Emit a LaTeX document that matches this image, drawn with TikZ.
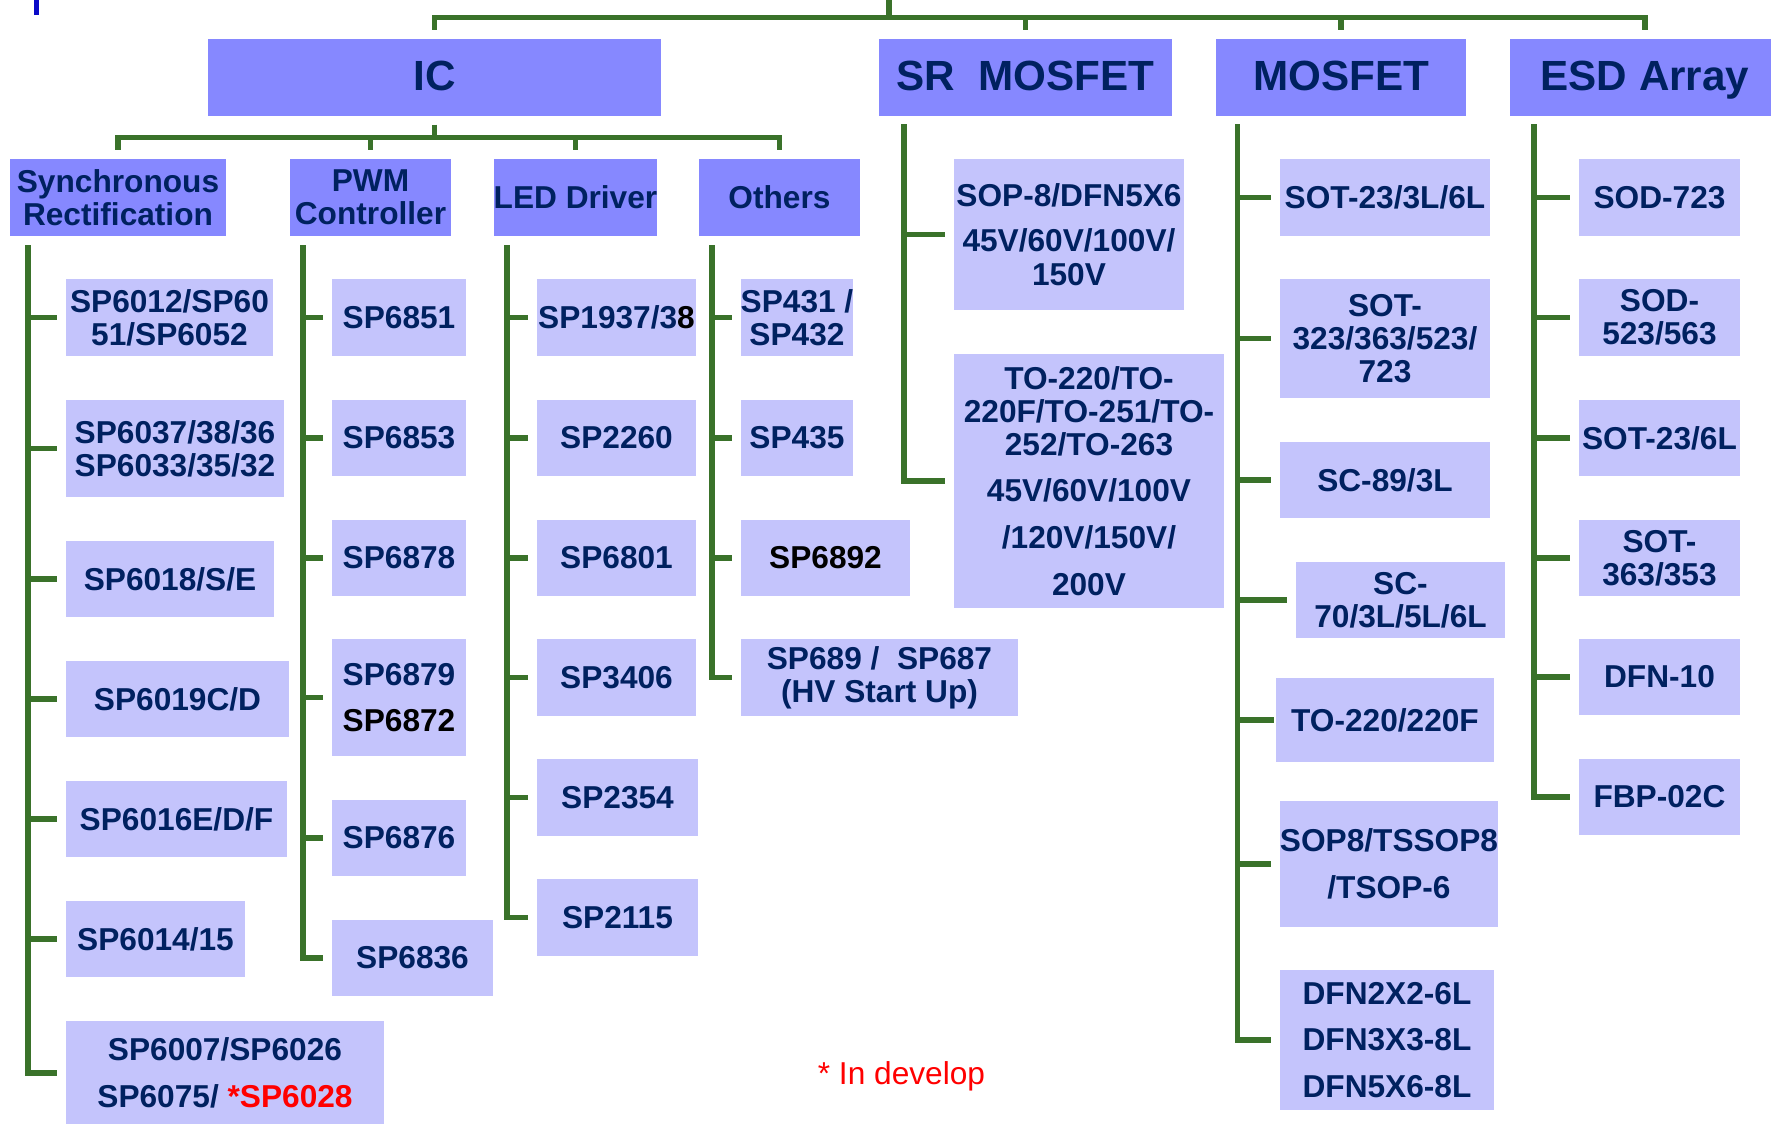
\documentclass[tikz,border=0pt]{standalone}
\usepackage{fontspec}
\setmainfont{Liberation Sans}
\definecolor{headblue}{RGB}{134,136,255}
\definecolor{leafblue}{RGB}{196,196,252}
\definecolor{navy}{RGB}{0,33,96}
\definecolor{treegreen}{RGB}{58,114,42}
\definecolor{tickblue}{RGB}{10,10,200}

\begin{document}
\begin{tikzpicture}[x=0.01cm, y=-0.01cm,
  head/.style={fill=headblue, text=navy, inner sep=0pt, minimum height=0.77cm, text height=7.6pt, text depth=0pt, font=\bfseries\fontsize{12}{14}\selectfont},
  sub/.style={fill=headblue, text=navy, inner sep=0pt, align=center, minimum height=0.77cm, minimum width=1.61cm, font=\bfseries\fontsize{9}{9.4}\selectfont},
  leaf/.style={fill=leafblue, text=navy, inner sep=0pt, align=center, minimum height=0.77cm, minimum width=1.61cm, font=\bfseries\fontsize{9}{9.4}\selectfont},
  tree/.style={draw=treegreen, line width=1.5pt},
  twig/.style={tree, shorten >=0.08cm}]
  \useasboundingbox (0,0) rectangle (1771,1124);
  \clip (0,0) rectangle (1771,1124);
  \draw[tickblue, line width=1.3pt] (36.5,0) -- (36.5,15);

  % top level
  \node[head, minimum width=4.53cm] (ic) at (434.5,77.5) {IC};
  \node[head, minimum width=2.93cm] (srm) at (1025.5,77.5) {SR\ \ MOSFET};
  \node[head, minimum width=2.50cm] (mos) at (1341,77.5) {MOSFET};
  \node[head, minimum width=2.70cm] (esd) at (1645,77.5) {ESD Array};

  % IC groups
  \node[sub, minimum width=2.16cm] (sync) at (118,197.5) {Synchronous\\Rectification};
  \node[sub] (pwm) at (370.5,197.5) {PWM\\Controller};
  \node[sub] (led) at (575.5,197.5) {LED Driver};
  \node[sub] (oth) at (779.5,197.5) {Others};

  % Synchronous Rectification
  \node[leaf, minimum width=2.07cm] (a1) at (169.5,317.5) {SP6012/SP60\\51/SP6052};
  \node[leaf, minimum width=2.18cm, minimum height=0.97cm] (a2) at (175,448.5) {SP6037/38/36\\SP6033/35/32};
  \node[leaf, minimum width=2.08cm, minimum height=0.76cm] (a3) at (170,579) {SP6018/S/E};
  \node[leaf, minimum width=2.23cm, minimum height=0.76cm] (a4) at (177.5,699) {SP6019C/D};
  \node[leaf, minimum width=2.21cm, minimum height=0.76cm] (a5) at (176.5,819) {SP6016E/D/F};
  \node[leaf, minimum width=1.79cm, minimum height=0.76cm] (a6) at (155.5,939) {SP6014/15};
  \node[leaf, minimum width=3.18cm, minimum height=1.04cm] (a7) at (225,1073)
    {SP6007/SP6026\\[3.9pt]SP6075/ \textcolor{red}{*SP6028}};

  % PWM Controller
  \node[leaf, minimum width=1.34cm] (b1) at (399,317.5) {SP6851};
  \node[leaf, minimum width=1.34cm, minimum height=0.76cm] (b2) at (399,438) {SP6853};
  \node[leaf, minimum width=1.34cm, minimum height=0.76cm] (b3) at (399,558) {SP6878};
  \node[leaf, minimum width=1.34cm, minimum height=1.17cm] (b4) at (399,697.5) {SP6879\\[3.9pt]\textcolor{black}{SP6872}};
  \node[leaf, minimum width=1.34cm, minimum height=0.76cm] (b5) at (399,838) {SP6876};
  \node[leaf, minimum height=0.76cm] (b6) at (412.5,958) {SP6836};

  % LED Driver
  \node[leaf, minimum width=1.59cm] (c1) at (616.5,317.5) {SP1937/3\textcolor{black}{8}};
  \node[leaf, minimum width=1.59cm, minimum height=0.76cm] (c2) at (616.5,438) {SP2260};
  \node[leaf, minimum width=1.59cm, minimum height=0.76cm] (c3) at (616.5,558) {SP6801};
  \node[leaf, minimum width=1.59cm] (c4) at (616.5,677.5) {SP3406};
  \node[leaf] (c5) at (617.5,797.5) {SP2354};
  \node[leaf] (c6) at (617.5,917.5) {SP2115};

  % Others
  \node[leaf, minimum width=1.12cm] (d1) at (797,317.5) {SP431 /\\SP432};
  \node[leaf, minimum width=1.12cm, minimum height=0.76cm] (d2) at (797,438) {SP435};
  \node[leaf, minimum width=1.69cm, minimum height=0.76cm, text=black] (d3) at (825.5,558) {SP6892};
  \node[leaf, minimum width=2.77cm] (d4) at (879.5,677.5) {SP689 /\ \ SP687\\(HV Start Up)};

  % SR MOSFET
  \node[leaf, minimum width=2.30cm, minimum height=1.51cm] (e1) at (1069,234.5)
    {SOP-8/DFN5X6\\[3.5pt]45V/60V/100V/\\150V};
  \node[leaf, minimum width=2.70cm, minimum height=2.54cm] (e2) at (1089,481)
    {TO-220/TO-\\220F/TO-251/TO-\\252/TO-263\\[3.9pt]45V/60V/100V\\[3.9pt]/120V/150V/\\[3.9pt]200V};

  % MOSFET
  \node[leaf, minimum width=2.10cm] (f1) at (1385,197.5) {SOT-23/3L/6L};
  \node[leaf, minimum width=2.10cm, minimum height=1.19cm] (f2) at (1385,338.5) {SOT-\\323/363/523/\\723};
  \node[leaf, minimum width=2.10cm, minimum height=0.76cm] (f3) at (1385,480) {SC-89/3L};
  \node[leaf, minimum width=2.09cm, minimum height=0.76cm] (f4) at (1400.5,600) {SC-\\70/3L/5L/6L};
  \node[leaf, minimum width=2.18cm, minimum height=0.84cm] (f5) at (1385,720) {TO-220/220F};
  \node[leaf, minimum width=2.18cm, minimum height=1.26cm] (f6) at (1389,864) {SOP8/TSSOP8\\[3.9pt]/TSOP-6};
  \node[leaf, minimum width=2.14cm, minimum height=1.40cm] (f7) at (1387,1040)
    {DFN2X2-6L\\[3.9pt]DFN3X3-8L\\[3.9pt]DFN5X6-8L};

  % ESD Array
  \node[leaf] (g1) at (1659.5,197.5) {SOD-723};
  \node[leaf] (g2) at (1659.5,317.5) {SOD-\\523/563};
  \node[leaf, minimum height=0.76cm] (g3) at (1659.5,438) {SOT-23/6L};
  \node[leaf, minimum height=0.76cm] (g4) at (1659.5,558) {SOT-\\363/353};
  \node[leaf, minimum height=0.76cm] (g5) at (1659.5,677) {DFN-10};
  \node[leaf, minimum height=0.76cm] (g6) at (1659.5,797) {FBP-02C};

  \node[text=red, font=\fontsize{9}{11}\selectfont, anchor=base] (dev) at (901.5,1084) {* In develop};

  % connectors
  \coordinate (root) at (889,0);
  \coordinate (bar) at (889,17.5);
  \draw[tree] (root) -- (bar);
  \foreach \n in {ic,srm,mos,esd} \draw[twig] (bar) -| (\n.north);

  \coordinate (icbar) at (434.5,137.5);
  \draw[tree, shorten <=0.08cm] (ic.south) -- (icbar);
  \foreach \n in {sync,pwm,led,oth} \draw[twig] (icbar) -| (\n.north);

  % spines
  \coordinate (s1) at (28,245);
  \coordinate (s2) at (303,245);
  \coordinate (s3) at (507,245);
  \coordinate (s4) at (712,245);
  \coordinate (s5) at (904,124);
  \coordinate (s6) at (1237.5,124);
  \coordinate (s7) at (1534,124);

  \foreach \i in {1,...,7} \draw[twig] (s1) |- (a\i.west);
  \foreach \i in {1,...,6} \draw[twig] (s2) |- (b\i.west);
  \foreach \i in {1,...,6} \draw[twig] (s3) |- (c\i.west);
  \foreach \i in {1,...,4} \draw[twig] (s4) |- (d\i.west);
  \foreach \i in {1,2} \draw[twig] (s5) |- (e\i.west);
  \foreach \i in {1,2,3,4,6,7} \draw[twig] (s6) |- (f\i.west);
  \draw[tree, shorten >=0.01cm] (s6) |- (f5.west);
  \foreach \i in {1,...,6} \draw[twig] (s7) |- (g\i.west);
\end{tikzpicture}
\end{document}
